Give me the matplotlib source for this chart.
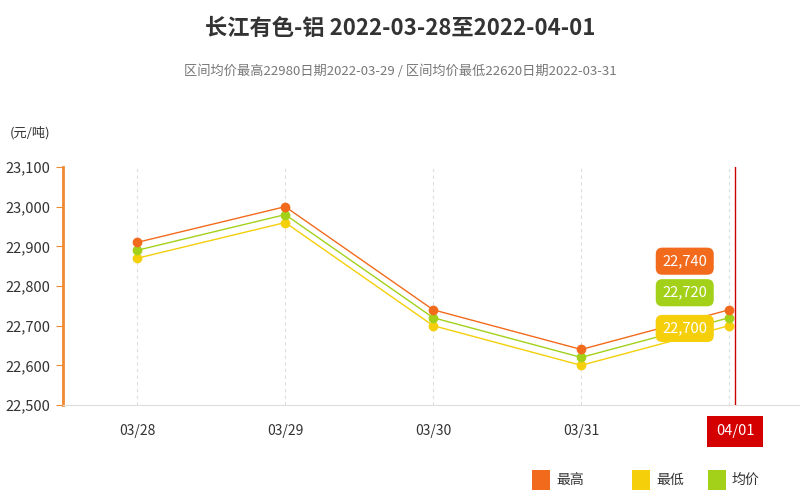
import matplotlib.pyplot as plt
from matplotlib.patches import Rectangle
from matplotlib.ticker import FuncFormatter

plt.rcParams['font.family'] = ['Noto Sans CJK SC', 'DejaVu Sans']

dates = ['03/28', '03/29', '03/30', '03/31', '04/01']
high = [22910, 23000, 22740, 22640, 22740]
avg = [22890, 22980, 22720, 22620, 22720]
low = [22870, 22960, 22700, 22600, 22700]

c_high = '#f26b1d'
c_avg = '#a3d11a'
c_low = '#f5cf0a'

fig = plt.figure(figsize=(8, 5), dpi=100)
ax = fig.add_axes([0.079, 0.19, 0.925, 0.476])

x = list(range(len(dates)))
ax.plot(x, high, color=c_high, lw=1, marker='o', ms=6, zorder=4)
ax.plot(x, avg, color=c_avg, lw=1, marker='o', ms=6, zorder=3)
ax.plot(x, low, color=c_low, lw=1, marker='o', ms=6, zorder=2)

ax.set_xlim(-0.5, 4.5)
ax.set_ylim(22500, 23100)
ax.set_yticks(range(22500, 23101, 100))
ax.yaxis.set_major_formatter(FuncFormatter(lambda v, p: f'{int(v):,}'))
ax.set_xticks(x)
# last label is covered by the crosshair box
ax.set_xticklabels(dates[:-1] + [''])

for xi in x:
    ax.axvline(xi, color='#dddddd', lw=0.8, ls=(0, (3, 3)), zorder=0)

for s in ['top', 'right']:
    ax.spines[s].set_visible(False)
ax.spines['left'].set_color('#f08a30')
ax.spines['left'].set_linewidth(2)
ax.spines['bottom'].set_color('#dddddd')
ax.tick_params(axis='y', colors='#f08a30', length=5, labelcolor='#333333', labelsize=10.5, pad=4)
ax.tick_params(axis='x', length=0, labelcolor='#333333', labelsize=10, pad=14)

# crosshair on last day
cx = x[-1] + 0.04
ax.axvline(cx, color='#cc0000', lw=1, zorder=5)
ax.annotate(dates[-1], xy=(cx, 22500), xytext=(0, -19), textcoords='offset points',
            ha='center', va='center', color='white', fontsize=10.5,
            bbox=dict(boxstyle='square,pad=0.6', fc='#d40000', ec='none'),
            annotation_clip=False, zorder=6)

# tooltip value boxes
for val, col, dy in [(high[-1], c_high, 35), (avg[-1], c_avg, 18), (low[-1], c_low, -2)]:
    ax.annotate(f'{val:,}', xy=(x[-1], val), xytext=(-32, dy),
                textcoords='offset points', ha='center', va='center', color='white',
                fontsize=10.5, bbox=dict(boxstyle='round,pad=0.45', fc=col, ec='none'), zorder=6)

fig.text(0.5, 0.944, '长江有色-铝 2022-03-28至2022-04-01', ha='center', va='center',
         fontsize=16, fontweight='bold', color='#333333')
fig.text(0.5, 0.858, '区间均价最高22980日期2022-03-29 / 区间均价最低22620日期2022-03-31',
         ha='center', va='center', fontsize=9.5, color='#777777')
fig.text(0.038, 0.734, '(元/吨)', ha='center', va='center', fontsize=9.5, color='#333333')

# legend
for lx, col, lab in [(0.665, c_high, '最高'), (0.79, c_low, '最低'), (0.885, c_avg, '均价')]:
    fig.patches.append(Rectangle((lx, 0.02), 0.022, 0.04, transform=fig.transFigure,
                                 fc=col, ec='none'))
    fig.text(lx + 0.03, 0.04, lab, ha='left', va='center', fontsize=10, color='#333333')

fig.savefig('out.png', dpi=100)
